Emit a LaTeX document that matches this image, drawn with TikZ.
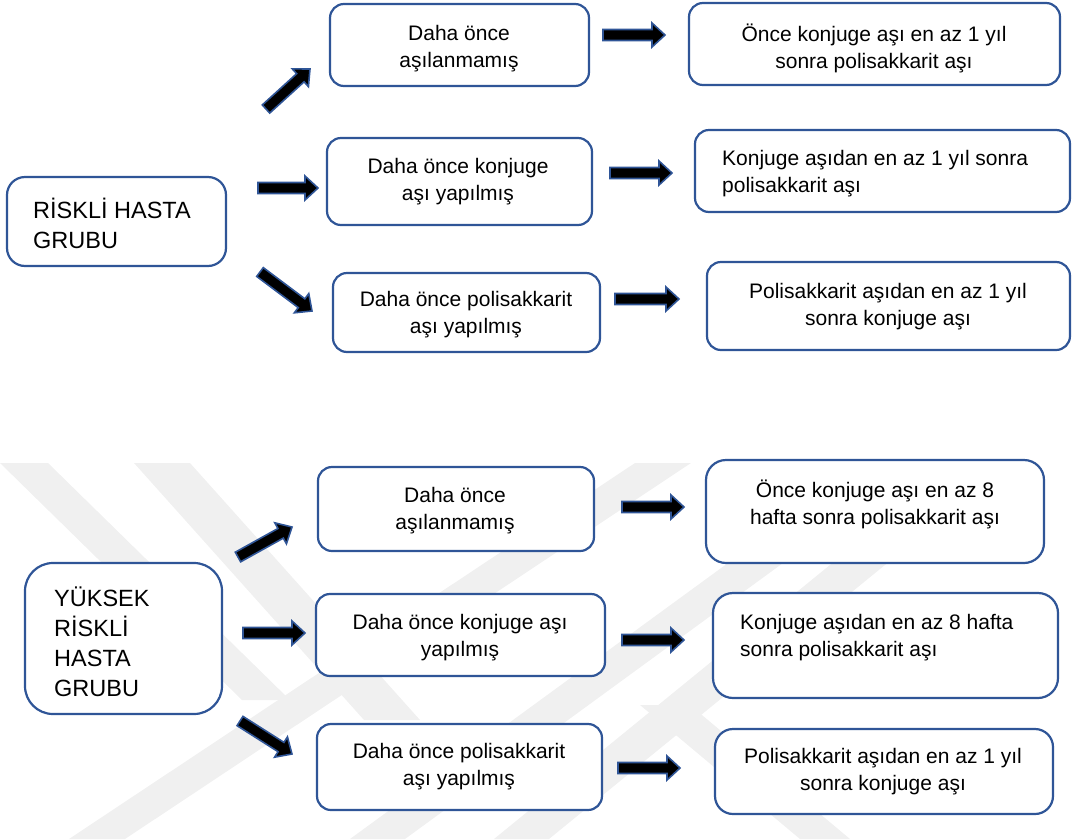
\documentclass[tikz,border=0pt]{standalone}
\usepackage{fontspec}
\setmainfont{Liberation Sans}
\usetikzlibrary{calc}
\definecolor{bord}{HTML}{2F5597}
\definecolor{wm}{HTML}{F0F0F0}
\tikzset{
  box/.style={draw=bord, line width=2.2pt, fill=white, rounded corners=14pt, inner sep=0pt},
  txt/.style={align=center, inner sep=0pt, font=\fontsize{21}{27}\selectfont},
  ltxt/.style={align=left, inner sep=0pt, anchor=west, font=\fontsize{21}{27}\selectfont},
  gtxt/.style={align=left, inner sep=0pt, anchor=west, font=\fontsize{23.5}{30}\selectfont},
  blockarrow/.style={draw=bord, fill=black, line width=1.6pt, line join=miter},
  wmband/.style={fill=wm, draw=none}
}
\newcommand\barrow[2]{%
  \path let \p1=(#1), \p2=(#2) in \pgfextra{%
    \pgfmathsetmacro\bang{atan2(\y2-\y1,\x2-\x1)}%
    \pgfmathsetmacro\blen{veclen(\x2-\x1,\y2-\y1)}%
    \xdef\gang{\bang}\xdef\glen{\blen}};
  \begin{scope}[shift={(#1)}, rotate=\gang]
    \draw[blockarrow] (0,5.5) -- (\glen-13,5.5) -- (\glen-13,12) -- (\glen,0) -- (\glen-13,-12) -- (\glen-13,-5.5) -- (0,-5.5) -- cycle;
  \end{scope}%
}
\begin{document}
\begin{tikzpicture}[x=1pt,y=-1pt]
\useasboundingbox (0,0) rectangle (1072,839);
% watermark
\begin{scope}
\clip (0,463) rectangle (1072,839);
\fill[wmband] (0,463) -- (48,463) -- (290,700) -- (242,700) -- cycle;
\fill[wmband] (134,463) -- (190,463) -- (420,720) -- (364,720) -- cycle;
\fill[wmband] (69,839) -- (125,839) -- (691,463) -- (635,463) -- cycle;
\fill[wmband] (350,839) -- (405,839) -- (920,463) -- (865,463) -- cycle;
\fill[wmband] (494,839) -- (549,839) -- (1010,463) -- (955,463) -- cycle;
\fill[wmband] (640,705) -- (690,705) -- (850,839) -- (800,839) -- cycle;
\end{scope}

% top section boxes
\node[box, rounded corners=18pt, minimum width=219pt, minimum height=89pt] (r1) at (116.5,221.5) {};
\node[gtxt] (r1t) at (33,223) {RİSKLİ HASTA\\GRUBU};
\node[box, minimum width=259pt, minimum height=82pt] (a1) at (459.5,45) {};
\node[txt] (a1t) at (459,49) {Daha önce\\aşılanmamış};
\node[box, minimum width=265pt, minimum height=87pt] (a2) at (459.5,181.5) {};
\node[txt] (a2t) at (458,181.5) {Daha önce konjuge\\aşı yapılmış};
\node[box, minimum width=267pt, minimum height=79pt] (a3) at (466.5,312.5) {};
\node[txt] (a3t) at (466,315) {Daha önce polisakkarit\\aşı yapılmış};
\node[box, minimum width=371pt, minimum height=82pt] (b1) at (874.5,44) {};
\node[txt] (b1t) at (874,48.5) {Önce konjuge aşı en az 1 yıl\\sonra polisakkarit aşı};
\node[box, minimum width=375pt, minimum height=82pt] (b2) at (882.5,171) {};
\node[ltxt] (b2t) at (722,174) {Konjuge aşıdan en az 1 yıl sonra\\polisakkarit aşı};
\node[box, minimum width=363pt, minimum height=88pt] (b3) at (888.5,306) {};
\node[txt] (b3t) at (888,307) {Polisakkarit aşıdan en az 1 yıl\\sonra konjuge aşı};

% bottom section boxes
\node[box, rounded corners=28pt, minimum width=197pt, minimum height=151pt] (r2) at (123.5,638.5) {};
\node[gtxt] (r2t) at (54,642) {YÜKSEK\\RİSKLİ\\HASTA\\GRUBU};
\node[box, minimum width=276pt, minimum height=84pt] (c1) at (456,509) {};
\node[txt] (c1t) at (455,511) {Daha önce\\aşılanmamış};
\node[box, minimum width=289pt, minimum height=82pt] (c2) at (460.5,635) {};
\node[txt] (c2t) at (460,638) {Daha önce konjuge aşı\\yapılmış};
\node[box, minimum width=285pt, minimum height=86pt] (c3) at (459.5,767) {};
\node[txt] (c3t) at (459,767) {Daha önce polisakkarit\\aşı yapılmış};
\node[box, rounded corners=20pt, minimum width=338pt, minimum height=103pt] (d1) at (875,511.5) {};
\node[txt] (d1t) at (875,504.5) {Önce konjuge aşı en az 8\\hafta sonra polisakkarit aşı};
\node[box, rounded corners=20pt, minimum width=345pt, minimum height=105pt] (d2) at (885.5,645.5) {};
\node[ltxt] (d2t) at (740,637.5) {Konjuge aşıdan en az 8 hafta\\sonra polisakkarit aşı};
\node[box, rounded corners=18pt, minimum width=338pt, minimum height=85pt] (d3) at (884,771.5) {};
\node[txt] (d3t) at (883,772) {Polisakkarit aşıdan en az 1 yıl\\sonra konjuge aşı};

% arrow end points
\coordinate (t1s) at (266,109); \coordinate (t1e) at (310,69);
\coordinate (t2s) at (258,188); \coordinate (t2e) at (318,188);
\coordinate (t3s) at (260,272); \coordinate (t3e) at (312,311);
\coordinate (t4s) at (603,35);  \coordinate (t4e) at (665,35);
\coordinate (t5s) at (610,173); \coordinate (t5e) at (672,173);
\coordinate (t6s) at (615,299); \coordinate (t6e) at (679,299);
\coordinate (u1s) at (238,557); \coordinate (u1e) at (292,527);
\coordinate (u2s) at (243,633); \coordinate (u2e) at (305,633);
\coordinate (u3s) at (240,721); \coordinate (u3e) at (292,754);
\coordinate (u4s) at (622,507); \coordinate (u4e) at (684,507);
\coordinate (u5s) at (622,640); \coordinate (u5e) at (684,640);
\coordinate (u6s) at (618,768); \coordinate (u6e) at (680,768);

\barrow{t1s}{t1e}
\barrow{t2s}{t2e}
\barrow{t3s}{t3e}
\barrow{t4s}{t4e}
\barrow{t5s}{t5e}
\barrow{t6s}{t6e}
\barrow{u1s}{u1e}
\barrow{u2s}{u2e}
\barrow{u3s}{u3e}
\barrow{u4s}{u4e}
\barrow{u5s}{u5e}
\barrow{u6s}{u6e}
\end{tikzpicture}
\end{document}
